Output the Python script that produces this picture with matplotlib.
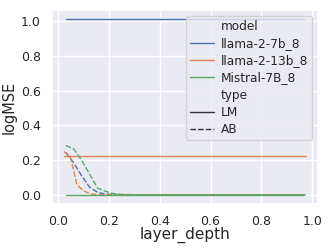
import numpy as np
import pandas as pd
import matplotlib
matplotlib.use('Agg')
import matplotlib.pyplot as plt
import seaborn as sns

# layer depths: 32-layer models (7b, Mistral) and 40-layer model (13b)
depth_32 = np.arange(1, 32) / 32
depth_40 = np.arange(1, 40) / 40

models = ['llama-2-7b_8', 'llama-2-13b_8', 'Mistral-7B_8']

# LM baseline (flat per model)
lm_7b = [1.013] * 31
lm_13b = [0.223] * 39
lm_mistral = [0.0] * 31

# AB curves
ab_7b = [0.245, 0.185, 0.11, 0.045, 0.016, 0.006, 0.004, 0.003, 0.002, 0.002,
         0.002, 0.002, 0.002, 0.002, 0.002, 0.002, 0.002, 0.002, 0.002, 0.002,
         0.002, 0.002, 0.002, 0.002, 0.002, 0.002, 0.002, 0.002, 0.002, 0.002,
         0.002]
ab_13b = [0.25, 0.215, 0.06, 0.025, 0.009, 0.004, 0.003, 0.002, 0.002, 0.002,
          0.002, 0.002, 0.002, 0.002, 0.002, 0.002, 0.002, 0.002, 0.002, 0.002,
          0.002, 0.002, 0.002, 0.002, 0.002, 0.002, 0.002, 0.002, 0.002, 0.002,
          0.002, 0.002, 0.002, 0.002, 0.002, 0.002, 0.002, 0.002, 0.002]
ab_mistral = [0.285, 0.265, 0.2, 0.12, 0.04, 0.022, 0.008, 0.004, 0.003, 0.002,
              0.002, 0.002, 0.002, 0.002, 0.002, 0.002, 0.002, 0.002, 0.002, 0.002,
              0.002, 0.002, 0.002, 0.002, 0.002, 0.002, 0.002, 0.002, 0.002, 0.002,
              0.002]

rows = []
for m, x, lm, ab in [(models[0], depth_32, lm_7b, ab_7b),
                     (models[1], depth_40, lm_13b, ab_13b),
                     (models[2], depth_32, lm_mistral, ab_mistral)]:
    for t, vals in [('LM', lm), ('AB', ab)]:
        for xi, v in zip(x, vals):
            rows.append({'layer_depth': xi, 'logMSE': v, 'model': m, 'type': t})
df = pd.DataFrame(rows)

sns.set_theme(style='darkgrid')
fig = plt.figure(figsize=(3.32, 2.49), dpi=100)
ax = fig.add_axes([0.157, 0.181, 0.801, 0.779])
sns.lineplot(data=df, x='layer_depth', y='logMSE', hue='model', style='type',
             hue_order=models, style_order=['LM', 'AB'], linewidth=1.0, ax=ax)

ax.tick_params(labelsize=9, pad=2)
ax.set_xlabel('layer_depth', fontsize=11, labelpad=-1)
ax.set_ylabel('logMSE', fontsize=10.5, labelpad=3)
ax.set_xticks([0.0, 0.2, 0.4, 0.6, 0.8, 1.0])
ax.legend(loc='upper right', fontsize=8.7, handlelength=2.0, labelspacing=0.35,
          borderpad=0.3, handletextpad=0.6)

fig.savefig('out.png', dpi=100)
